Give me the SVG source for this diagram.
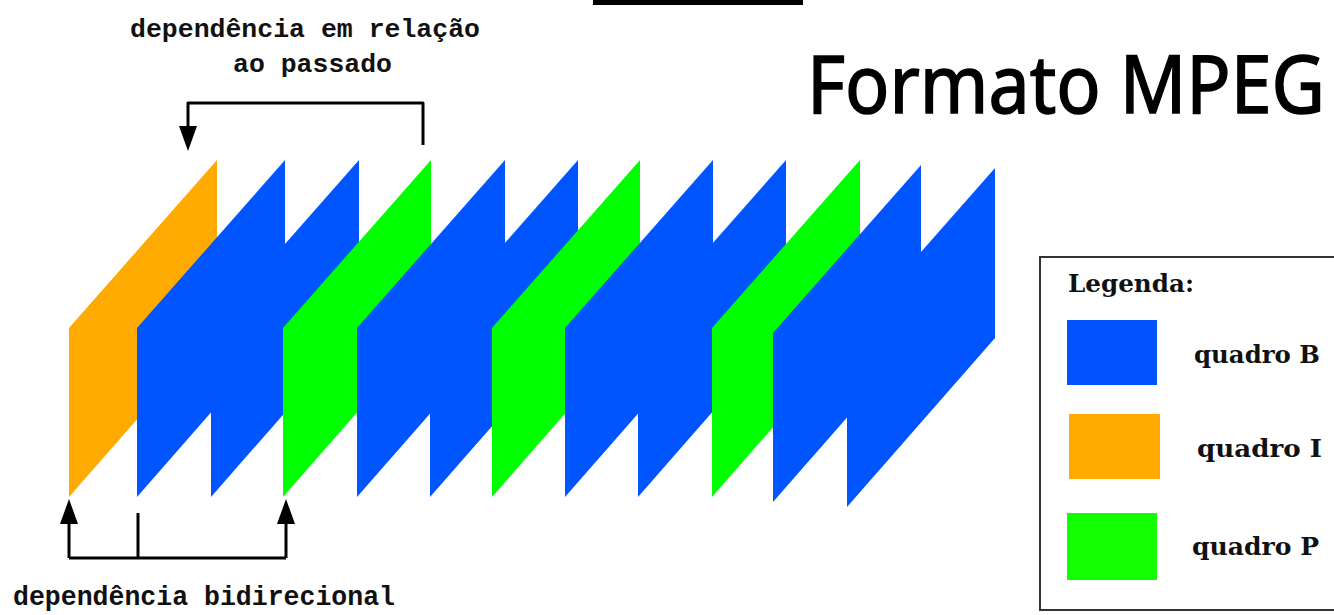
<svg xmlns="http://www.w3.org/2000/svg" width="1334" height="615" viewBox="0 0 1334 615">
<style>
  .b{fill:#0055ff}
  .g{fill:#00ff00}
  .o{fill:#ffaa00}
  .conn{fill:none;stroke:#000;stroke-width:3;stroke-linejoin:round}
  .mono{font-family:"Liberation Mono","Courier New",monospace;font-weight:bold;fill:#111}
  .leg{font-family:"DejaVu Serif","Liberation Serif",serif;font-weight:bold;font-size:25px;fill:#111}
  .title{font-family:"Noto Sans","Open Sans",sans-serif;font-size:80px;fill:#000;stroke:#000;stroke-width:1.5}
</style>
<defs>
  <marker id="ah" viewBox="0 0 25 18" refX="1" refY="9" markerWidth="25" markerHeight="18" markerUnits="userSpaceOnUse" orient="auto">
    <path d="M0,0 L25,9 L0,18 z" fill="#000"/>
  </marker>
</defs>
<rect width="1334" height="615" fill="#fff"/>
<rect id="topbar" x="593" y="0" width="210" height="5" fill="#000"/>
<text id="title" class="title" x="807" y="113" textLength="518" lengthAdjust="spacingAndGlyphs">Formato MPEG</text>

<g id="frames">
  <g id="f1"><polygon class="o" points="69,328 217,160 217,328 69,497"/></g>
  <g id="f2"><polygon class="b" points="137,328 285,160 285,328 137,497"/></g>
  <g id="f3"><polygon class="b" points="211,328 359,160 359,328 211,497"/></g>
  <g id="f4"><polygon class="g" points="283,328 431,160 431,328 283,497"/></g>
  <g id="f5"><polygon class="b" points="357,328 505,160 505,328 357,497"/></g>
  <g id="f6"><polygon class="b" points="430,328 578,160 578,328 430,497"/></g>
  <g id="f7"><polygon class="g" points="492,328 640,160 640,328 492,497"/></g>
  <g id="f8"><polygon class="b" points="565,328 713,160 713,328 565,497"/></g>
  <g id="f9"><polygon class="b" points="638,328 786,160 786,328 638,497"/></g>
  <g id="f10"><polygon class="g" points="712,328 860,160 860,328 712,497"/></g>
  <g id="f11"><polygon class="b" points="773,333 921,165 921,333 773,502"/></g>
  <g id="f12"><polygon class="b" points="847,336 995,168 995,338 847,507"/></g>
</g>

<g id="connectors">
  <path class="conn" d="M423,145 V103 H188 V127" marker-end="url(#ah)"/>
  <path class="conn" d="M69,558 H286"/>
  <path class="conn" d="M138,513 V558"/>
  <path class="conn" d="M69,558 V523" marker-end="url(#ah)"/>
  <path class="conn" d="M286,558 V523" marker-end="url(#ah)"/>
</g>

<g id="label-past">
  <text class="mono" font-size="25" x="130" y="37" textLength="350" lengthAdjust="spacingAndGlyphs">dependência em relação</text>
  <text class="mono" font-size="25" x="233" y="72" textLength="159" lengthAdjust="spacingAndGlyphs">ao passado</text>
</g>
<g id="label-bidir">
  <text class="mono" font-size="27" x="13" y="605" textLength="382" lengthAdjust="spacingAndGlyphs">dependência bidirecional</text>
</g>

<g id="legend">
  <rect x="1040" y="257" width="310" height="353" fill="#fff" stroke="#333" stroke-width="2"/>
  <text class="leg" x="1068" y="292" textLength="126" lengthAdjust="spacingAndGlyphs">Legenda:</text>
  <g id="leg-b">
    <rect x="1067" y="320" width="90" height="65" fill="#0052ff"/>
    <text class="leg" x="1194" y="363" textLength="126" lengthAdjust="spacingAndGlyphs">quadro B</text>
  </g>
  <g id="leg-i">
    <rect x="1069" y="414" width="91" height="65" fill="#ffaa00"/>
    <text class="leg" x="1197" y="457" textLength="125" lengthAdjust="spacingAndGlyphs">quadro I</text>
  </g>
  <g id="leg-p">
    <rect x="1067" y="513" width="90" height="67" fill="#11ff00"/>
    <text class="leg" x="1192" y="555" textLength="127" lengthAdjust="spacingAndGlyphs">quadro P</text>
  </g>
</g>
</svg>
